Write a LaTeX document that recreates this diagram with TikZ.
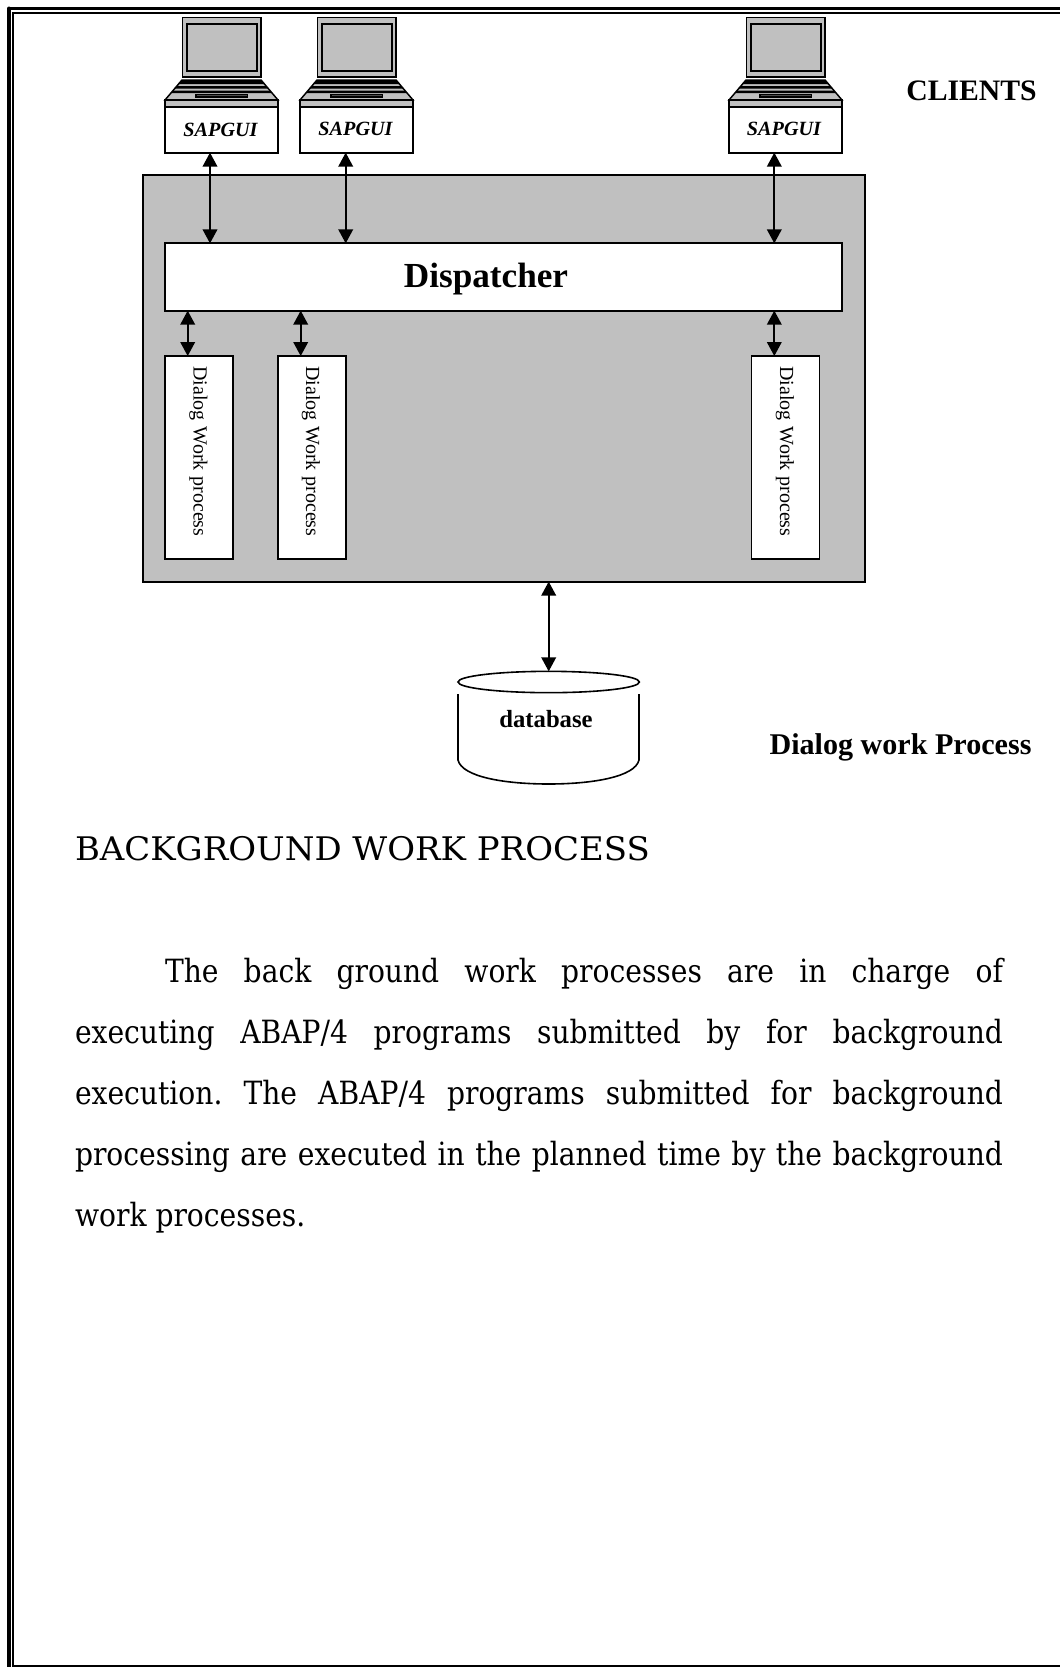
\documentclass[tikz,border=0pt]{standalone}
\usepackage{fontspec}
\usetikzlibrary{arrows.meta,shapes.geometric}
\setmainfont{Liberation Serif}
\newfontfamily\bodyfont[FakeStretch=0.88]{DejaVu Serif}
\newfontfamily\headfont[FakeStretch=1.044]{DejaVu Serif}
\newcommand{\px}[1]{\fontsize{\dimexpr #1pt*3/4\relax}{\dimexpr #1pt*9/10\relax}\selectfont}
\definecolor{panel}{RGB}{192,192,192}
\tikzset{
  x=0.75pt,y=-0.75pt,
  boxline/.style={draw=black,line width=1.3pt,inner sep=0pt,outer sep=0pt},
  whitebox/.style={boxline,fill=white},
  biarrow/.style={line width=1.25pt,arrows={Triangle[length=10.5pt,width=11pt]-Triangle[length=10.5pt,width=11pt]}},
  txt/.style={inner sep=0pt,outer sep=0pt,anchor=base},
  rtxt/.style={inner sep=0pt,outer sep=0pt,anchor=base,rotate=-90},
  lapline/.style={draw=black,line width=1.1pt},
  lapfill/.style={lapline,fill=panel},
  bodyline/.style={inner sep=0pt,outer sep=0pt,anchor=base west,font=\frenchspacing\bodyfont\px{32}},
}
\newcommand{\laptop}[1]{%
  \begin{scope}[shift={(#1,0)}]
    \draw[lapfill] (182.3,17.3) rectangle (261,77);
    \draw[lapfill,line width=1.4pt] (186.7,24) rectangle (257,70.7);
    \draw[lapfill] (182,80) -- (261,80) -- (278,100) -- (165,100) -- cycle;
    \fill[black] (181.5,80) -- (261.5,80) -- (265,84) -- (178,84) -- cycle;
    \fill[black] (176.5,86) -- (266.5,86) -- (268.5,88.5) -- (174.5,88.5) -- cycle;
    \fill[black] (173,90.5) -- (270,90.5) -- (272,93) -- (171,93) -- cycle;
    \draw[lapline,fill=black!70] (196,94.5) rectangle (247.3,97);
    \draw[lapfill] (165,100) rectangle (278,107);
  \end{scope}}
\begin{document}
\begin{tikzpicture}
\useasboundingbox (0,0) rectangle (1060,1667);
\fill[white] (0,0) rectangle (1060,1667);
% page border
\draw[line width=3pt,line cap=round] (9,1667) -- (9,8.5);
\draw[line width=2.4pt,line cap=round] (9,8.5) -- (1060,8.5);
\draw[line width=1.2pt] (13.2,1667) -- (13.2,12.8) -- (1060,12.8);
\draw[line width=1.2pt] (13.2,1666) -- (1060,1666);
% server panel
\node[boxline,fill=panel,minimum width=541.5pt,minimum height=305pt] (server) at (504,378.3) {};
% laptops
\laptop{0}
\laptop{135}
\laptop{564}
% clients
\node[whitebox,minimum width=84.75pt,minimum height=34pt] (sap1) at (221.5,130) {};
\node[whitebox,minimum width=84.75pt,minimum height=34pt] (sap2) at (356.5,130) {};
\node[whitebox,minimum width=84.75pt,minimum height=34pt] (sap3) at (785.5,130) {};
\node[txt,font=\px{20.2}\bfseries\itshape] (sapt1) at (220.5,136) {SAPGUI};
\node[txt,font=\px{20.2}\bfseries\itshape] (sapt2) at (355.5,135) {SAPGUI};
\node[txt,font=\px{20.2}\bfseries\itshape] (sapt3) at (784,135) {SAPGUI};
% dispatcher
\node[whitebox,minimum width=507.75pt,minimum height=50.5pt] (disp) at (503.5,277) {};
\node[txt,font=\px{35.2}\bfseries] (dispt) at (486,287) {Dispatcher};
% work processes
\node[whitebox,minimum width=51pt,minimum height=152.25pt] (wp1) at (199,457.5) {};
\node[whitebox,minimum width=51pt,minimum height=152.25pt] (wp2) at (312,457.5) {};
\node[whitebox,minimum width=51pt,minimum height=152.25pt] (wp3) at (785.5,457.5) {};
\node[rtxt,font=\px{20}] (wpt1) at (193.5,451.5) {\makebox[127.5pt][s]{Dialog Work process}};
\node[rtxt,font=\px{20}] (wpt2) at (306,451.5) {\makebox[127.5pt][s]{Dialog Work process}};
\node[rtxt,font=\px{20}] (wpt3) at (780,451.5) {\makebox[127.5pt][s]{Dialog Work process}};
% arrow columns
\coordinate (ca) at (210,0);
\coordinate (cb) at (345.7,0);
\coordinate (cc) at (774.3,0);
\coordinate (cd) at (187.7,0);
\coordinate (ce) at (300.7,0);
\coordinate (cf) at (548.7,0);
\draw[biarrow] (sap1.south -| ca) -- (disp.north -| ca);
\draw[biarrow] (sap2.south -| cb) -- (disp.north -| cb);
\draw[biarrow] (sap3.south -| cc) -- (disp.north -| cc);
\draw[biarrow] (disp.south -| cd) -- (wp1.north -| cd);
\draw[biarrow] (disp.south -| ce) -- (wp2.north -| ce);
\draw[biarrow] (disp.south -| cc) -- (wp3.north -| cc);
% database
\draw[line width=1.2pt] (458,694) -- (458,760) .. controls (462,777) and (505,784) .. (548.7,784) .. controls (592,784) and (635,777) .. (639,760) -- (639,694);
\node[draw=black,line width=1.2pt,fill=white,shape=ellipse,inner sep=0pt,outer sep=0pt,minimum width=136pt,minimum height=16pt] (db) at (548.7,682) {};
\draw[biarrow] (server.south -| cf) -- (db.north);
\node[txt,font=\px{24.7}\bfseries] (dbt) at (546,727.5) {database};
% side labels
\node[txt,font=\px{29.7}\bfseries] (clients) at (971.5,100) {CLIENTS};
\node[txt,font=\px{30.1}\bfseries] (caption) at (900.5,754) {Dialog work Process};
% text
\node[inner sep=0pt,outer sep=0pt,anchor=base west,font=\headfont\px{32.5}] (head) at (75,860) {BACKGROUND WORK PROCESS};
\node[bodyline] (l1) at (165,982) {\makebox[628.5pt][s]{The back ground work processes are in charge of}};
\node[bodyline] (l2) at (75,1043) {\makebox[696pt][s]{executing ABAP/4 programs submitted by for background}};
\node[bodyline] (l3) at (75,1104) {\makebox[696pt][s]{execution. The ABAP/4 programs submitted for background}};
\node[bodyline] (l4) at (75,1165) {\makebox[696pt][s]{processing are executed in the planned time by the background}};
\node[bodyline] (l5) at (75,1226) {work processes.};
\end{tikzpicture}
\end{document}
